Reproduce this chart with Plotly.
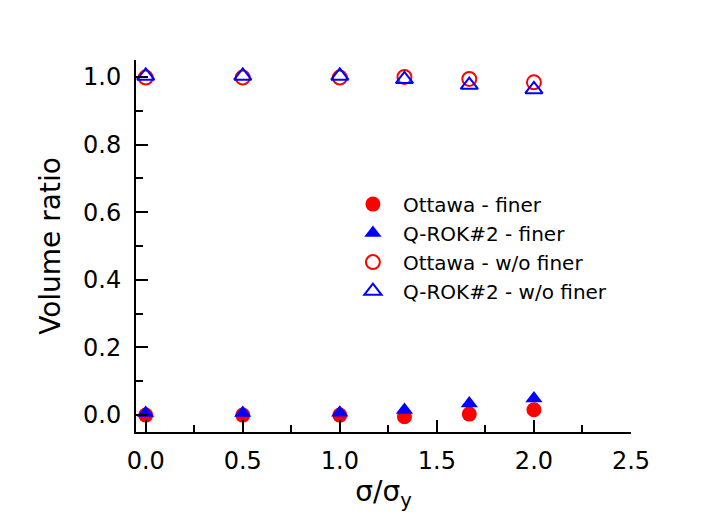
import plotly.graph_objects as go

# Loading ratio sigma/sigma_y
stress_ratio = [0.0, 0.5, 1.0, 1.333, 1.667, 2.0]

# Volume ratio of finer fraction
ottawa_finer = [0.0, 0.0, 0.0, -0.005, 0.003, 0.016]
qrok_finer = [0.006, 0.006, 0.007, 0.015, 0.034, 0.049]

# Volume ratio without finer fraction
ottawa_wo_finer = [0.998, 0.998, 0.998, 1.0, 0.994, 0.984]
qrok_wo_finer = [1.003, 1.003, 1.003, 0.993, 0.976, 0.963]

FONT = "DejaVu Sans"

fig = go.Figure()

fig.add_trace(go.Scatter(
    x=stress_ratio, y=ottawa_finer, mode="markers", name="Ottawa - finer",
    marker=dict(symbol="circle", size=15, color="#ff0000", line=dict(width=0)),
))
fig.add_trace(go.Scatter(
    x=stress_ratio, y=qrok_finer, mode="markers", name="Q-ROK#2 - finer",
    marker=dict(symbol="triangle-up", size=15, color="#0000ff", line=dict(width=0)),
))
fig.add_trace(go.Scatter(
    x=stress_ratio, y=ottawa_wo_finer, mode="markers", name="Ottawa - w/o finer",
    marker=dict(symbol="circle-open", size=14, color="#ff0000", line=dict(width=2, color="#ff0000")),
))
fig.add_trace(go.Scatter(
    x=stress_ratio, y=qrok_wo_finer, mode="markers", name="Q-ROK#2 - w/o finer",
    marker=dict(symbol="triangle-up-open", size=15, color="#0000ff", line=dict(width=2, color="#0000ff")),
))

axis_common = dict(
    showline=True, linecolor="black", linewidth=2,
    showgrid=False, zeroline=False,
    ticks="inside", ticklen=12, tickwidth=2, tickcolor="black",
    tickformat=".1f",
    tickfont=dict(family=FONT, size=24, color="black"),
)

fig.update_xaxes(
    range=[-0.05, 2.5], tick0=0, dtick=0.5,
    minor=dict(ticks="inside", ticklen=7, tickwidth=2, tickcolor="black", dtick=0.25, tick0=0),
    ticklabelstandoff=6,
    title=dict(text="σ/σ<sub>y</sub>", font=dict(family=FONT, size=28, color="black"), standoff=8),
    **axis_common,
)
fig.update_yaxes(
    range=[-0.05, 1.05], tick0=0, dtick=0.2,
    minor=dict(ticks="inside", ticklen=7, tickwidth=2, tickcolor="black", dtick=0.1, tick0=0),
    ticklabelstandoff=8,
    title=dict(text="Volume ratio", font=dict(family=FONT, size=28, color="black"), standoff=14),
    **axis_common,
)

fig.update_layout(
    width=716, height=516,
    margin=dict(l=136, r=85, t=60, b=84),
    paper_bgcolor="white", plot_bgcolor="white",
    showlegend=True,
    legend=dict(
        x=0.418, y=0.665, xanchor="left", yanchor="top",
        bgcolor="rgba(0,0,0,0)", borderwidth=0,
        font=dict(family=FONT, size=20, color="black"),
        itemwidth=50,
    ),
)

fig.write_html("out.html")
